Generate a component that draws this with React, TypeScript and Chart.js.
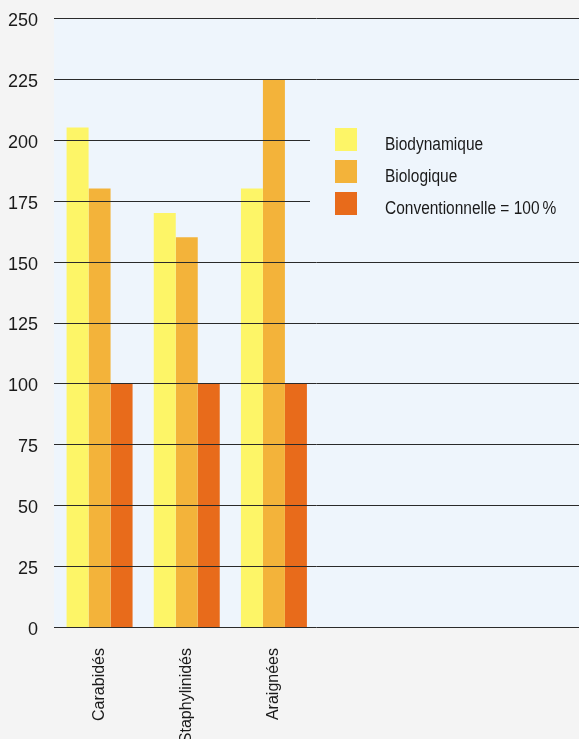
import React, { useEffect, useRef } from "react";
import { Chart, registerables } from "chart.js";

Chart.register(...registerables);

// Categories (three taxa plus empty slots that keep the right half of the plot free)
const categories: string[] = ["Carabidés", "Staphylinidés", "Araignées", "", "", ""];

// Relative abundance, conventional farming = 100 %
const biodynamique: (number | null)[] = [205, 170, 180, null, null, null];
const biologique: (number | null)[] = [180, 160, 225, null, null, null];
const conventionnelle: (number | null)[] = [100, 100, 100, null, null, null];

const seriesLabels: string[] = ["Biodynamique", "Biologique", "Conventionnelle = 100\u202F%"];
const seriesColors: string[] = ["#fdf567", "#f3b33a", "#e86b1b"];

const yTicks: number[] = [0, 25, 50, 75, 100, 125, 150, 175, 200, 225, 250];

const FONT = "'Liberation Sans', Arial, sans-serif";
const PAGE_BG = "#f4f4f4";
const PLOT_BG = "#eef5fc";

// Plot background drawn behind the bars, extending to the canvas right edge
const plotBackground = {
  id: "plotBackground",
  beforeDatasetsDraw(chart: any) {
    const { ctx, chartArea } = chart;
    ctx.save();
    ctx.fillStyle = PLOT_BG;
    ctx.fillRect(chartArea.left - 2, chartArea.top, chart.width - chartArea.left + 2, chartArea.bottom - chartArea.top);
    ctx.restore();
  },
};

// Horizontal grid lines on top of the bars, then the legend panel over them
const overlay = {
  id: "overlay",
  afterDatasetsDraw(chart: any) {
    const { ctx, chartArea, scales } = chart;
    const y = scales.y;
    ctx.save();
    ctx.strokeStyle = "#2a2a2a";
    ctx.lineWidth = 1;
    for (const t of yTicks) {
      const py = Math.round(y.getPixelForValue(t)) + 0.5;
      ctx.beginPath();
      ctx.moveTo(chartArea.left - 2, py);
      ctx.lineTo(chart.width, py);
      ctx.stroke();
    }

    // legend panel
    const boxLeft = 310;
    const boxTop = y.getPixelForValue(218);
    const boxBottom = y.getPixelForValue(158);
    ctx.fillStyle = PLOT_BG;
    ctx.fillRect(boxLeft, boxTop, chart.width - boxLeft, boxBottom - boxTop);

    // condensed-looking legend text: taller glyphs, squeezed horizontally
    const squeeze = 0.86;
    ctx.font = `18px ${FONT}`;
    ctx.textAlign = "left";
    ctx.textBaseline = "alphabetic";
    chart.data.datasets.forEach((ds: any, i: number) => {
      const sy = 128 + i * 32;
      ctx.fillStyle = ds.backgroundColor;
      ctx.fillRect(335, sy, 22, 23);
      ctx.fillStyle = "#1a1a1a";
      ctx.save();
      ctx.translate(385, sy + 22);
      ctx.scale(squeeze, 1);
      ctx.fillText(ds.label, 0, 0);
      ctx.restore();
    });
    ctx.restore();
  },
};

export default function App() {
  const canvasRef = useRef<HTMLCanvasElement | null>(null);

  useEffect(() => {
    document.body.style.margin = "0";
    document.body.style.background = PAGE_BG;
    const canvas = canvasRef.current;
    if (!canvas) return;
    const chart = new Chart(canvas, {
      type: "bar",
      data: {
        labels: categories,
        datasets: [
          { label: seriesLabels[0], data: biodynamique, backgroundColor: seriesColors[0] },
          { label: seriesLabels[1], data: biologique, backgroundColor: seriesColors[1] },
          { label: seriesLabels[2], data: conventionnelle, backgroundColor: seriesColors[2] },
        ],
      },
      options: {
        animation: false,
        responsive: false,
        maintainAspectRatio: false,
        layout: { padding: { top: 18, right: 0, left: 0, bottom: 0 } },
        datasets: {
          bar: { categoryPercentage: 0.757, barPercentage: 1.0, borderWidth: 0 },
        },
        plugins: {
          legend: { display: false },
          tooltip: { enabled: false },
        },
        scales: {
          x: {
            grid: { display: false, drawTicks: false },
            border: { display: false },
            ticks: {
              color: "#1a1a1a",
              font: { family: FONT, size: 16 },
              minRotation: 90,
              maxRotation: 90,
              padding: 21,
              autoSkip: false,
            },
            afterFit(scale: any) {
              scale.height = 112;
              scale.paddingLeft = 0;
              scale.paddingRight = 0;
            },
          },
          y: {
            min: 0,
            max: 250,
            grid: { display: false, drawTicks: false },
            border: { display: false },
            afterBuildTicks(scale: any) {
              scale.ticks = yTicks.map((v) => ({ value: v }));
            },
            ticks: {
              color: "#1a1a1a",
              font: { family: FONT, size: 18 },
              padding: 18,
              labelOffset: 3,
            },
            afterFit(scale: any) {
              scale.width = 56;
              scale.paddingTop = 0;
              scale.paddingBottom = 0;
            },
          },
        },
      },
      plugins: [plotBackground, overlay],
    });
    return () => chart.destroy();
  }, []);

  return (
    <div style={{ width: 579, height: 739, background: PAGE_BG }}>
      <canvas ref={canvasRef} width={579} height={739} style={{ display: "block" }} />
    </div>
  );
}
